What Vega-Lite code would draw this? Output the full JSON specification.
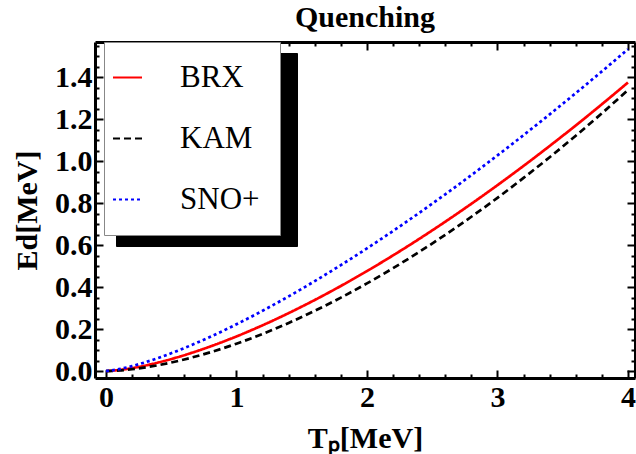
{
  "$schema": "https://vega.github.io/schema/vega-lite/v6.json",
  "width": 540,
  "height": 336,
  "autosize": {"type": "none"},
  "padding": {"left": 95, "top": 42, "right": 1, "bottom": 76},
  "background": "white",
  "config": {"view": {"stroke": null}},
  "title": {"text": "Quenching", "font": "Liberation Serif", "fontSize": 30, "fontWeight": "bold", "color": "black", "frame": "group", "anchor": "middle", "offset": -2},
  "data": {"values": [
    {"T": 0, "E": 0, "series": "BRX"}, {"T": 0.1, "E": 0.0049, "series": "BRX"}, {"T": 0.2, "E": 0.0141, "series": "BRX"}, {"T": 0.4, "E": 0.0407, "series": "BRX"}, {"T": 0.6, "E": 0.0756, "series": "BRX"}, {"T": 0.8, "E": 0.1173, "series": "BRX"}, {"T": 1.0, "E": 0.165, "series": "BRX"}, {"T": 1.2, "E": 0.218, "series": "BRX"}, {"T": 1.4, "E": 0.276, "series": "BRX"}, {"T": 1.6, "E": 0.3385, "series": "BRX"}, {"T": 1.8, "E": 0.4053, "series": "BRX"}, {"T": 2.0, "E": 0.4761, "series": "BRX"}, {"T": 2.2, "E": 0.5509, "series": "BRX"}, {"T": 2.4, "E": 0.6292, "series": "BRX"}, {"T": 2.6, "E": 0.7112, "series": "BRX"}, {"T": 2.8, "E": 0.7966, "series": "BRX"}, {"T": 3.0, "E": 0.8852, "series": "BRX"}, {"T": 3.2, "E": 0.977, "series": "BRX"}, {"T": 3.4, "E": 1.0719, "series": "BRX"}, {"T": 3.6, "E": 1.1696, "series": "BRX"}, {"T": 3.8, "E": 1.2705, "series": "BRX"}, {"T": 4.0, "E": 1.3741, "series": "BRX"},
    {"T": 0, "E": 0, "series": "KAM"}, {"T": 0.1, "E": 0.0027, "series": "KAM"}, {"T": 0.2, "E": 0.0087, "series": "KAM"}, {"T": 0.4, "E": 0.028, "series": "KAM"}, {"T": 0.6, "E": 0.0552, "series": "KAM"}, {"T": 0.8, "E": 0.0896, "series": "KAM"}, {"T": 1.0, "E": 0.1303, "series": "KAM"}, {"T": 1.2, "E": 0.177, "series": "KAM"}, {"T": 1.4, "E": 0.2293, "series": "KAM"}, {"T": 1.6, "E": 0.287, "series": "KAM"}, {"T": 1.8, "E": 0.3498, "series": "KAM"}, {"T": 2.0, "E": 0.4175, "series": "KAM"}, {"T": 2.2, "E": 0.4901, "series": "KAM"}, {"T": 2.4, "E": 0.5672, "series": "KAM"}, {"T": 2.6, "E": 0.6488, "series": "KAM"}, {"T": 2.8, "E": 0.7348, "series": "KAM"}, {"T": 3.0, "E": 0.825, "series": "KAM"}, {"T": 3.2, "E": 0.9198, "series": "KAM"}, {"T": 3.4, "E": 1.0183, "series": "KAM"}, {"T": 3.6, "E": 1.1208, "series": "KAM"}, {"T": 3.8, "E": 1.2274, "series": "KAM"}, {"T": 4.0, "E": 1.3379, "series": "KAM"},
    {"T": 0, "E": 0, "series": "SNO+"}, {"T": 0.1, "E": 0.009, "series": "SNO+"}, {"T": 0.2, "E": 0.0238, "series": "SNO+"}, {"T": 0.4, "E": 0.0623, "series": "SNO+"}, {"T": 0.6, "E": 0.1095, "series": "SNO+"}, {"T": 0.8, "E": 0.1634, "series": "SNO+"}, {"T": 1.0, "E": 0.2228, "series": "SNO+"}, {"T": 1.2, "E": 0.2871, "series": "SNO+"}, {"T": 1.4, "E": 0.3558, "series": "SNO+"}, {"T": 1.6, "E": 0.4284, "series": "SNO+"}, {"T": 1.8, "E": 0.5046, "series": "SNO+"}, {"T": 2.0, "E": 0.5843, "series": "SNO+"}, {"T": 2.2, "E": 0.6672, "series": "SNO+"}, {"T": 2.4, "E": 0.7531, "series": "SNO+"}, {"T": 2.6, "E": 0.8417, "series": "SNO+"}, {"T": 2.8, "E": 0.9331, "series": "SNO+"}, {"T": 3.0, "E": 1.0271, "series": "SNO+"}, {"T": 3.2, "E": 1.1236, "series": "SNO+"}, {"T": 3.4, "E": 1.2225, "series": "SNO+"}, {"T": 3.6, "E": 1.3235, "series": "SNO+"}, {"T": 3.8, "E": 1.427, "series": "SNO+"}, {"T": 4.0, "E": 1.5327, "series": "SNO+"}
  ]},
  "layer": [
    {
      "mark": {"type": "line", "strokeWidth": 2.7, "interpolate": "monotone", "clip": true},
      "encoding": {
        "x": {"field": "T", "type": "quantitative",
          "scale": {"domain": [-0.084, 4.054], "nice": false, "zero": false},
          "axis": {"orient": "bottom", "grid": false,
            "values": [0, 0.2, 0.4, 0.6, 0.8, 1, 1.2, 1.4, 1.6, 1.8, 2, 2.2, 2.4, 2.6, 2.8, 3, 3.2, 3.4, 3.6, 3.8, 4],
            "labelExpr": "abs(datum.value - round(datum.value)) < 0.001 ? format(datum.value, 'd') : ''",
            "tickSize": {"condition": {"test": "abs(datum.value - round(datum.value)) < 0.001", "value": -8}, "value": -4},
            "tickWidth": 2, "tickColor": "black", "domainColor": "black", "domainWidth": 3,
            "labelFont": "Liberation Serif", "labelFontSize": 30, "labelFontWeight": "bold", "labelColor": "black", "labelPadding": 12, "labelFlush": false, "labelOverlap": false,
            "title": "Tₚ[MeV]", "titleFont": "Liberation Serif", "titleFontSize": 30, "titleFontWeight": "bold", "titleColor": "black", "titlePadding": 7}},
        "y": {"field": "E", "type": "quantitative",
          "scale": {"domain": [-0.033, 1.567], "nice": false, "zero": false},
          "axis": {"orient": "left", "grid": false,
            "values": [0, 0.05, 0.1, 0.15, 0.2, 0.25, 0.3, 0.35, 0.4, 0.45, 0.5, 0.55, 0.6, 0.65, 0.7, 0.75, 0.8, 0.85, 0.9, 0.95, 1, 1.05, 1.1, 1.15, 1.2, 1.25, 1.3, 1.35, 1.4, 1.45, 1.5, 1.55],
            "labelExpr": "abs(datum.value * 5 - round(datum.value * 5)) < 0.001 ? format(datum.value, '.1f') : ''",
            "tickSize": {"condition": {"test": "abs(datum.value * 5 - round(datum.value * 5)) < 0.001", "value": -8}, "value": -4},
            "tickWidth": 2, "tickColor": "black", "domainColor": "black", "domainWidth": 3,
            "labelFont": "Liberation Serif", "labelFontSize": 30, "labelFontWeight": "bold", "labelColor": "black", "labelPadding": 11, "labelFlush": false, "labelOverlap": false,
            "title": "Ed[MeV]", "titleFont": "Liberation Serif", "titleFontSize": 30, "titleFontWeight": "bold", "titleColor": "black", "titlePadding": 12}},
        "color": {"field": "series", "type": "nominal",
          "scale": {"domain": ["BRX", "KAM", "SNO+"], "range": ["#ff0000", "#000000", "#0000ff"]},
          "legend": {"orient": "none", "legendX": 9, "legendY": 0, "title": null, "zindex": 1,
            "symbolType": "stroke", "symbolSize": 841, "symbolStrokeWidth": 2, "symbolOffset": -12,
            "labelFont": "Liberation Serif", "labelFontSize": 31, "labelColor": "black", "labelOffset": 37,
            "fillColor": "white", "strokeColor": "#888888", "padding": 20, "rowPadding": 29}},
        "strokeDash": {"field": "series", "type": "nominal",
          "scale": {"domain": ["BRX", "KAM", "SNO+"], "range": [[1, 0], [7, 4], [3, 3]]},
          "legend": {"orient": "none", "legendX": 9, "legendY": 0, "title": null, "zindex": 1,
            "symbolType": "stroke", "symbolSize": 841, "symbolStrokeWidth": 2, "symbolOffset": -12,
            "labelFont": "Liberation Serif", "labelFontSize": 31, "labelColor": "black", "labelOffset": 37,
            "fillColor": "white", "strokeColor": "#888888", "padding": 20, "rowPadding": 29}},
        "opacity": {"field": "series", "type": "nominal",
          "scale": {"domain": ["SNO+", "KAM", "BRX"], "range": [1, 1, 1]},
          "legend": {"orient": "none", "legendX": 21, "legendY": 11, "title": null, "zindex": 0,
            "symbolType": "stroke", "symbolSize": 841, "symbolStrokeWidth": 2, "symbolOffset": -12, "symbolStrokeColor": "black",
            "labelFont": "Liberation Serif", "labelFontSize": 31, "labelColor": "black", "labelOffset": 122,
            "labelExpr": "''",
            "fillColor": "black", "strokeColor": "black", "padding": 20, "rowPadding": 29}}
      }
    },
    {
      "mark": {"type": "point", "opacity": 0},
      "encoding": {
        "x": {"field": "T", "type": "quantitative",
          "axis": {"orient": "top", "grid": false, "labels": false, "title": null,
            "values": [0, 0.2, 0.4, 0.6, 0.8, 1, 1.2, 1.4, 1.6, 1.8, 2, 2.2, 2.4, 2.6, 2.8, 3, 3.2, 3.4, 3.6, 3.8, 4],
            "tickSize": {"condition": {"test": "abs(datum.value - round(datum.value)) < 0.001", "value": -8}, "value": -4},
            "tickWidth": 2, "tickColor": "black", "domainColor": "black", "domainWidth": 3}},
        "y": {"field": "E", "type": "quantitative",
          "axis": {"orient": "right", "grid": false, "labels": false, "title": null,
            "values": [0, 0.05, 0.1, 0.15, 0.2, 0.25, 0.3, 0.35, 0.4, 0.45, 0.5, 0.55, 0.6, 0.65, 0.7, 0.75, 0.8, 0.85, 0.9, 0.95, 1, 1.05, 1.1, 1.15, 1.2, 1.25, 1.3, 1.35, 1.4, 1.45, 1.5, 1.55],
            "tickSize": {"condition": {"test": "abs(datum.value * 5 - round(datum.value * 5)) < 0.001", "value": -8}, "value": -4},
            "tickWidth": 2, "tickColor": "black", "domainColor": "black", "domainWidth": 3}}
      }
    }
  ],
  "resolve": {"axis": {"x": "independent", "y": "independent"}}
}
